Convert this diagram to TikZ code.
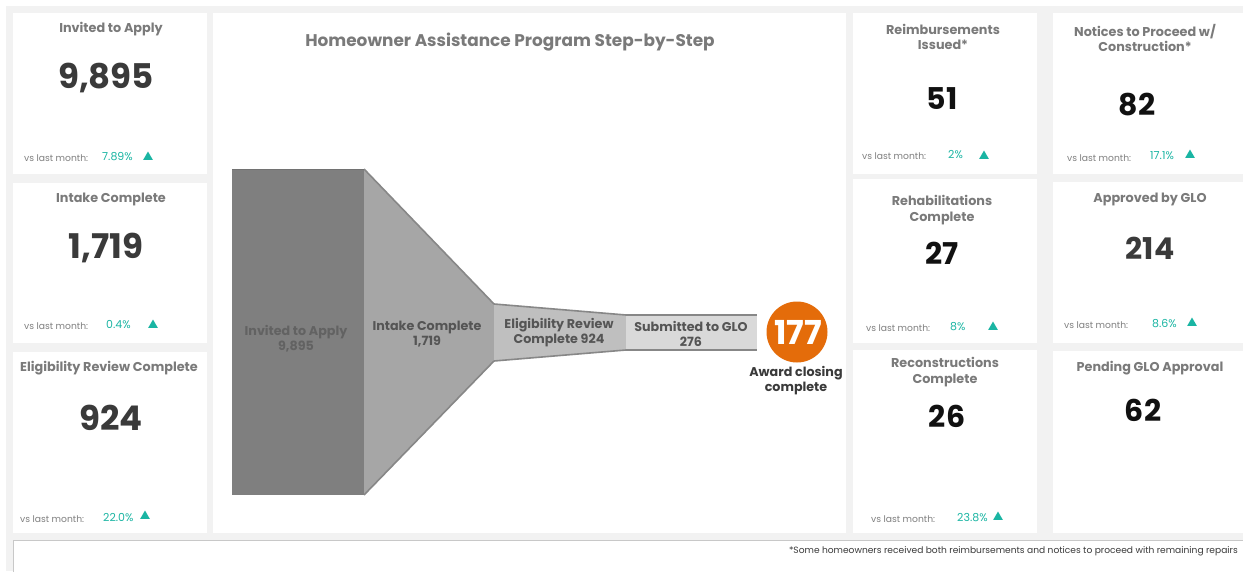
\documentclass[tikz,border=0pt]{standalone}
\usepackage{fontspec}
\setmainfont{Poppins}
\usetikzlibrary{shapes.geometric}
\definecolor{bg}{HTML}{F2F2F2}
\definecolor{ttlgray}{HTML}{7A7A7A}
\definecolor{numdark}{HTML}{3A3A3A}
\definecolor{numblack}{HTML}{111111}
\definecolor{vsgray}{HTML}{7F7F7F}
\definecolor{tealc}{HTML}{1AB5A3}
\definecolor{fdark}{HTML}{7F7F7F}
\definecolor{fmid}{HTML}{A6A6A6}
\definecolor{flight}{HTML}{BFBFBF}
\definecolor{flighter}{HTML}{D9D9D9}
\definecolor{fline}{HTML}{878787}
\definecolor{orangec}{HTML}{E46C0A}
\definecolor{flabel}{HTML}{555555}
\definecolor{flabeldark}{HTML}{626262}
\definecolor{footline}{HTML}{C8C8C8}
\begin{document}
\begin{tikzpicture}[x=1pt,y=-1pt,
  card/.style={fill=white},
  ttl/.style={font=\bfseries\fontsize{12.8}{15.5}\selectfont, text=ttlgray, align=center, inner sep=0},
  bignum/.style={font=\bfseries\fontsize{34}{40}\selectfont, text=numdark, inner sep=0},
  midnum/.style={font=\bfseries\fontsize{30}{36}\selectfont, text=numblack, inner sep=0},
  vs/.style={font=\fontsize{9.2}{11}\selectfont, text=vsgray, inner sep=0, anchor=west},
  pct/.style={font=\fontsize{11}{13}\selectfont, text=tealc, inner sep=0, anchor=west},
  tri/.style={regular polygon, regular polygon sides=3, fill=tealc, inner sep=0, minimum size=11pt},
  flab/.style={font=\bfseries\fontsize{12.7}{15}\selectfont, text=flabel, align=center, inner sep=0},
  fedge/.style={draw=fline, line width=1.6pt, line join=round}
]
\useasboundingbox (0,0) rectangle (1243,571);
\fill[white] (0,0) rectangle (1243,571);
\fill[bg] (6,6) rectangle (1243,571);
% cards
\fill[card] (13,13) rectangle (207,174);
\fill[card] (13,183) rectangle (207,343);
\fill[card] (13,352) rectangle (207,533);
\fill[card] (213,13) rectangle (846,533);
\fill[card] (853,13) rectangle (1037,174);
\fill[card] (853,179) rectangle (1037,343);
\fill[card] (853,350) rectangle (1037,533);
\fill[card] (1053,13) rectangle (1243,174);
\fill[card] (1053,182) rectangle (1243,343);
\fill[card] (1053,351) rectangle (1243,533);
% footer
\filldraw[fill=white, draw=footline, line width=0.8pt] (13,540) rectangle (1250,580);
\node[font=\fontsize{9.1}{11}\selectfont, text=numdark, anchor=east, inner sep=0] (foot) at (1238,551) {*Some homeowners received both reimbursements and notices to proceed with remaining repairs};

% left column
\node[ttl] (t1) at (111,29) {Invited to Apply};
\node[bignum] (n1) at (106,78) {9,895};
\node[vs] (v1) at (24,158) {vs last month:};
\node[pct] (p1) at (102,157) {7.89\%};
\node[tri] (a1) at (148,157) {};

\node[ttl] (t2) at (111,199) {Intake Complete};
\node[bignum] (n2) at (106,248) {1,719};
\node[vs] (v2) at (24,326) {vs last month:};
\node[pct] (p2) at (106,325) {0.4\%};
\node[tri] (a2) at (153,325) {};

\node[ttl] (t3) at (109,368) {Eligibility Review Complete};
\node[bignum] (n3) at (111,418) {924};
\node[vs] (v3) at (20,519) {vs last month:};
\node[pct] (p3) at (103,518) {22.0\%};
\node[tri] (a3) at (145,516) {};

% column 3
\node[ttl] (t4) at (943,37) {Reimbursements\\Issued*};
\node[midnum] (n4) at (942,99) {51};
\node[vs] (v4) at (862,156) {vs last month:};
\node[pct] (p4) at (948,155) {2\%};
\node[tri] (a4) at (984,156) {};

\node[ttl] (t5) at (942,210) {Rehabilitations\\Complete};
\node[midnum] (n5) at (942,253) {27};
\node[vs] (v5) at (866,328) {vs last month:};
\node[pct] (p5) at (950,327) {8\%};
\node[tri] (a5) at (993,327) {};

\node[ttl] (t6) at (945,372) {Reconstructions\\Complete};
\node[midnum] (n6) at (947,416) {26};
\node[vs] (v6) at (871,519) {vs last month:};
\node[pct] (p6) at (957,518) {23.8\%};
\node[tri] (a6) at (998,517) {};

% column 4
\node[ttl] (t7) at (1145,38) {Notices to Proceed w/\\Construction*};
\node[midnum] (n7) at (1137,105) {82};
\node[vs] (v7) at (1067,158) {vs last month:};
\node[pct] (p7) at (1150,156) {17.1\%};
\node[tri] (a7) at (1190,155) {};

\node[ttl] (t8) at (1150,199) {Approved by GLO};
\node[midnum, text=numdark] (n8) at (1150,248) {214};
\node[vs] (v8) at (1064,325) {vs last month:};
\node[pct] (p8) at (1152,324) {8.6\%};
\node[tri] (a8) at (1192,323) {};

\node[ttl] (t9) at (1150,368) {Pending GLO Approval};
\node[midnum] (n9) at (1143,410) {62};

% center title
\node[font=\bfseries\fontsize{16.9}{20}\selectfont, text=ttlgray, inner sep=0] (ctitle) at (510,42) {Homeowner Assistance Program Step-by-Step};

% funnel
\fill[fdark] (232,169) rectangle (364,495);
\fill[fmid] (364,169) -- (494,304) -- (494,361) -- (364,495) -- cycle;
\draw[fedge] (364,169) -- (494,304);
\draw[fedge] (364,495) -- (494,361);
\fill[flight] (494,304) -- (626,315) -- (626,350) -- (494,361) -- cycle;
\draw[fedge] (494,304) -- (626,315);
\draw[fedge] (494,361) -- (626,350);
\fill[flighter] (626,315) rectangle (757,350);
\draw[fedge] (626,315) -- (757,315);
\draw[fedge] (626,350) -- (757,350);
\draw[fdark!90!black, line width=0.6pt] (232,169) -- (364,169);

\node[flab, text=flabeldark] (f1) at (296,339) {Invited to Apply\\9,895};
\node[flab] (f2) at (427,334) {Intake Complete\\1,719};
\node[flab] (f3) at (559,333) {Eligibility Review\\Complete 924};
\node[flab] (f4) at (691,334) {Submitted to GLO\\276};

\node[circle, fill=orangec, minimum size=61pt, inner sep=0] (circ) at (797,332) {};
\node[font=\bfseries\fontsize{33}{36}\selectfont, text=white, inner sep=0] (c177) at (798,332) {177};
\node[flab, text=numdark] (award) at (796,381) {Award closing\\complete};
\end{tikzpicture}
\end{document}
